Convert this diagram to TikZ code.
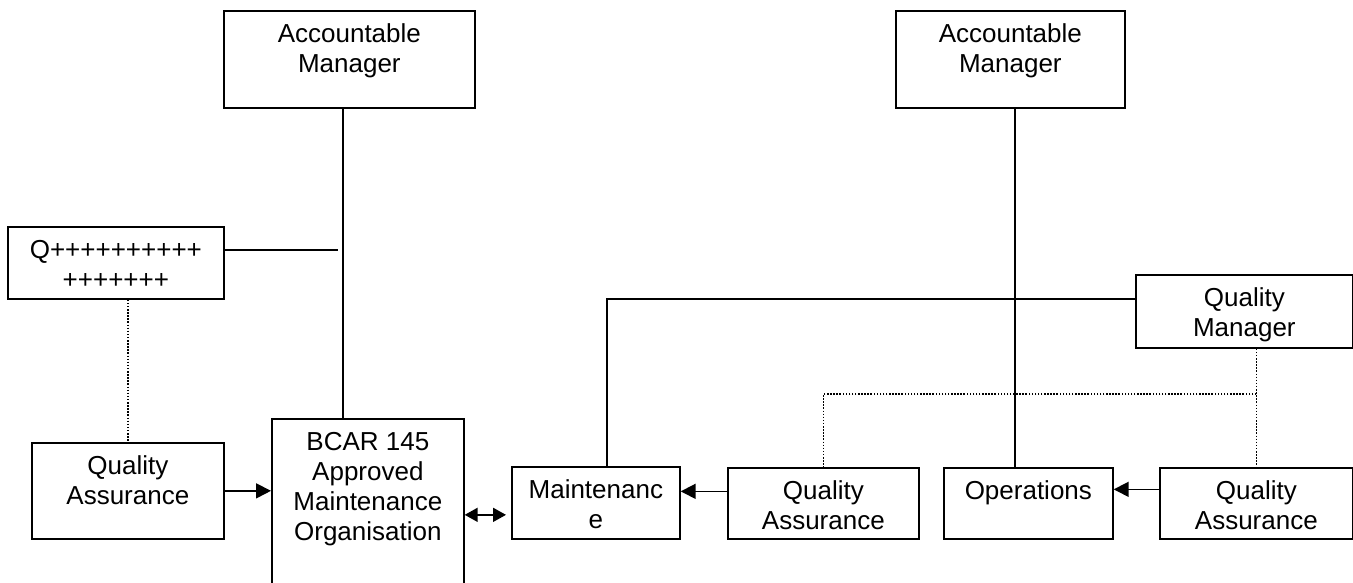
\documentclass[tikz,border=0pt]{standalone}
\usepackage{fontspec}
\setmainfont{Liberation Sans}
\usetikzlibrary{arrows.meta}
\newcommand{\boxtext}[3]{\parbox[c][#2][t]{#1}{\centering\rule{0pt}{32pt}#3}}
\begin{document}
\begin{tikzpicture}[x=1pt,y=-1pt,line width=1.7pt,
  box/.style={draw,inner sep=0pt,anchor=north west,font=\fontsize{26}{30}\selectfont},
  arr/.style={-{Triangle[length=15pt,width=15pt]}},
  dbl/.style={{Triangle[length=13pt,width=14pt]}-{Triangle[length=13pt,width=14pt]}},
  link/.style={line width=1.6pt,dash pattern=on 1.5pt off 1.6pt}]
\useasboundingbox (0,0) rectangle (1353,583);
% Organisation a gauche
\node[box] (amL) at (223,10) {\boxtext{251pt}{97pt}{Accountable\\Manager}};
\node[box] (qbox) at (7,226) {\boxtext{216pt}{72pt}{Q++++++++++\\+++++++}};
\node[box] (qaL) at (31,442) {\boxtext{192pt}{96pt}{Quality\\Assurance}};
\node[box] (bcar) at (271,418) {\boxtext{192pt}{180pt}{BCAR 145\\Approved\\Maintenance\\Organisation}};
% Organisation a droite
\node[box] (amR) at (895,10) {\boxtext{229pt}{97pt}{Accountable\\Manager}};
\node[box] (qm) at (1135,274) {\boxtext{217pt}{73pt}{Quality\\Manager}};
\node[box] (maint) at (511,466) {\boxtext{168pt}{72pt}{Maintenanc\\e}};
\node[box] (qaM) at (727,467) {\boxtext{191pt}{71pt}{Quality\\Assurance}};
\node[box] (ops) at (943,467) {\boxtext{169pt}{71pt}{Operations}};
\node[box] (qaR) at (1159,467) {\boxtext{193pt}{71pt}{Quality\\Assurance}};
\coordinate (spineL) at (343,0);
\coordinate (spineR) at (1015,0);
\coordinate (mtap) at (607,0);
\coordinate (qend) at (338,250);
\coordinate (qlink) at (0,394);
\coordinate (mdbl) at ([yshift=-12pt]maint.west);
\coordinate (qmin) at ([yshift=12.5pt]qm.west);
\draw (amL.south -| spineL) -- (bcar.north -| spineL);
\draw (qbox.east |- qend) -- (qend);
\draw[link] (qaL.north |- qbox.south) -- (qaL.north);
\draw[arr] (qaL.east) -- (qaL.east -| bcar.west);
\draw[dbl,shorten >=5pt] (bcar.east |- mdbl) -- (mdbl);
\draw[arr] ([yshift=12pt]qaM.west) -- ([yshift=12pt]qaM.west -| maint.east);
\draw[arr] ([yshift=14pt]qaR.west) -- ([yshift=14pt]qaR.west -| ops.east);
\draw (amR.south -| spineR) -- (ops.north -| spineR);
\draw (maint.north -| mtap) |- (qmin);
\draw[link] (qaR.north |- qm.south) -- (qaR.north);
\draw[link] (qaR.north |- qlink) -| (qaM.north);
\end{tikzpicture}
\end{document}
